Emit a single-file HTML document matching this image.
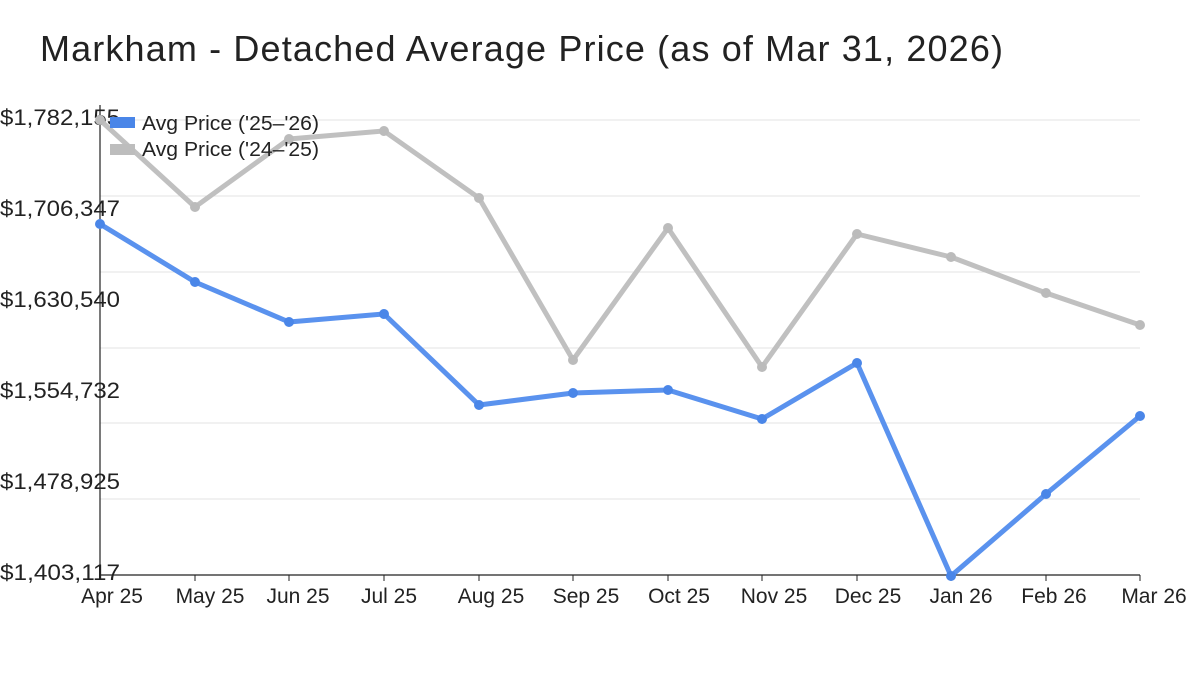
<!DOCTYPE html>
<html><head><meta charset="utf-8"><style>
body{margin:0;background:#fff;width:1200px;height:675px;overflow:hidden}
svg{font-family:"Liberation Sans","DejaVu Sans",sans-serif}
</style></head><body>
<svg width="1200" height="675" viewBox="0 0 1200 675">
<text x="40" y="61" font-size="36" fill="#222" textLength="963" lengthAdjust="spacing">Markham - Detached Average Price (as of Mar 31, 2026)</text>
<g stroke="#e3e3e3" stroke-width="1">
<line x1="100" x2="1140" y1="120" y2="120"/><line x1="100" x2="1140" y1="196" y2="196"/>
<line x1="100" x2="1140" y1="272" y2="272"/><line x1="100" x2="1140" y1="348" y2="348"/>
<line x1="100" x2="1140" y1="423" y2="423"/><line x1="100" x2="1140" y1="499" y2="499"/>
</g>
<g font-size="22" fill="#222">
<text x="0" y="125" textLength="120" lengthAdjust="spacingAndGlyphs">$1,782,155</text><text x="0" y="216" textLength="120" lengthAdjust="spacingAndGlyphs">$1,706,347</text>
<text x="0" y="307" textLength="120" lengthAdjust="spacingAndGlyphs">$1,630,540</text><text x="0" y="398" textLength="120" lengthAdjust="spacingAndGlyphs">$1,554,732</text>
<text x="0" y="489" textLength="120" lengthAdjust="spacingAndGlyphs">$1,478,925</text><text x="0" y="580" textLength="120" lengthAdjust="spacingAndGlyphs">$1,403,117</text>
</g>
<line x1="100" y1="105" x2="100" y2="575" stroke="#222" stroke-width="1.2"/>
<line x1="100" y1="575" x2="1140" y2="575" stroke="#222" stroke-width="1.2"/>
<g stroke="#222" stroke-width="1">
<line x1="195" x2="195" y1="575" y2="581"/><line x1="289" x2="289" y1="575" y2="581"/><line x1="384" x2="384" y1="575" y2="581"/>
<line x1="479" x2="479" y1="575" y2="581"/><line x1="573" x2="573" y1="575" y2="581"/><line x1="668" x2="668" y1="575" y2="581"/>
<line x1="762" x2="762" y1="575" y2="581"/><line x1="857" x2="857" y1="575" y2="581"/><line x1="951" x2="951" y1="575" y2="581"/>
<line x1="1046" x2="1046" y1="575" y2="581"/><line x1="1140" x2="1140" y1="575" y2="581"/>
</g>
<g font-size="21" fill="#222" text-anchor="middle">
<text x="112" y="603">Apr 25</text><text x="210" y="603">May 25</text><text x="298" y="603">Jun 25</text>
<text x="389" y="603">Jul 25</text><text x="491" y="603">Aug 25</text><text x="586" y="603">Sep 25</text>
<text x="679" y="603">Oct 25</text><text x="774" y="603">Nov 25</text><text x="868" y="603">Dec 25</text>
<text x="961" y="603">Jan 26</text><text x="1054" y="603">Feb 26</text><text x="1154" y="603">Mar 26</text>
</g>
<g fill="#bbbbbb" stroke="#c0c0c0">
<polyline fill="none" stroke-width="5" stroke-linejoin="round" points="100,120 195,207 289,139 384,131 479,198 573,360 668,228 762,367 857,234 951,257 1046,293 1140,325"/>
<g stroke="none"><circle cx="100" cy="120" r="5"/><circle cx="195" cy="207" r="5"/><circle cx="289" cy="139" r="5"/><circle cx="384" cy="131" r="5"/><circle cx="479" cy="198" r="5"/><circle cx="573" cy="360" r="5"/><circle cx="668" cy="228" r="5"/><circle cx="762" cy="367" r="5"/><circle cx="857" cy="234" r="5"/><circle cx="951" cy="257" r="5"/><circle cx="1046" cy="293" r="5"/><circle cx="1140" cy="325" r="5"/></g>
</g>
<g fill="#4a86e8" stroke="#5a92ee">
<polyline fill="none" stroke-width="5" stroke-linejoin="round" points="100,224 195,282 289,322 384,314 479,405 573,393 668,390 762,419 857,363 951,576 1046,494 1140,416"/>
<g stroke="none"><circle cx="100" cy="224" r="5"/><circle cx="195" cy="282" r="5"/><circle cx="289" cy="322" r="5"/><circle cx="384" cy="314" r="5"/><circle cx="479" cy="405" r="5"/><circle cx="573" cy="393" r="5"/><circle cx="668" cy="390" r="5"/><circle cx="762" cy="419" r="5"/><circle cx="857" cy="363" r="5"/><circle cx="951" cy="576" r="5"/><circle cx="1046" cy="494" r="5"/><circle cx="1140" cy="416" r="5"/></g>
</g>
<rect x="110" y="117" width="25" height="11" fill="#4a86e8"/>
<rect x="110" y="144" width="25" height="11" fill="#bdbdbd"/>
<g font-size="20" fill="#222">
<text x="142" y="130" textLength="177" lengthAdjust="spacingAndGlyphs">Avg Price ('25–'26)</text>
<text x="142" y="156" textLength="177" lengthAdjust="spacingAndGlyphs">Avg Price ('24–'25)</text>
</g>
</svg>
</body></html>
